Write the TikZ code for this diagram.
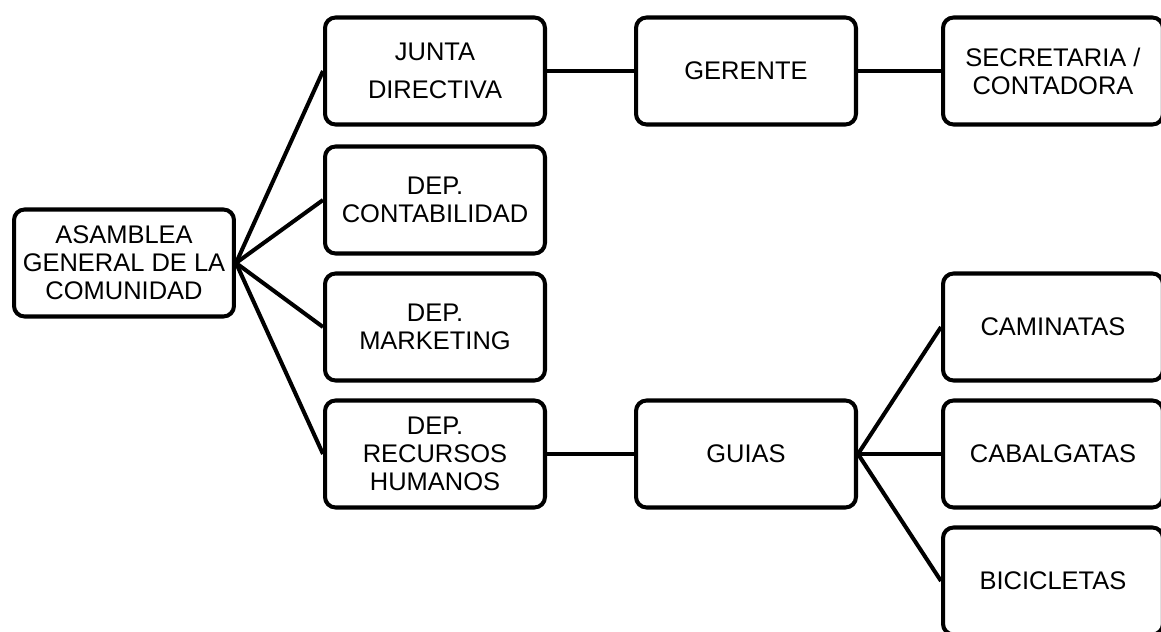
\documentclass[tikz,border=0pt]{standalone}
\usepackage{fontspec}
\setmainfont{Liberation Sans}

\begin{document}
\begin{tikzpicture}[x=0.02cm,y=-0.02cm,
  box/.style={draw,line width=2.3pt,rounded corners=6pt,minimum width=4.4cm,minimum height=2.14cm,
    align=center,inner sep=0pt,font=\fontsize{14.5}{16}\selectfont},
  link/.style={line width=2.3pt}]
  \useasboundingbox (0,0) rectangle (1161,632);
  % first column
  \node[box] (asamblea) at (124,263) {ASAMBLEA\\GENERAL DE LA\\COMUNIDAD};
  % second column
  \node[box] (junta) at (435,71) {JUNTA\\[5.6pt]DIRECTIVA};
  \node[box] (contab) at (435,200) {DEP.\\CONTABILIDAD};
  \node[box] (market) at (435,327) {DEP.\\MARKETING};
  \node[box] (rrhh) at (435,454) {DEP.\\RECURSOS\\HUMANOS};
  % third column
  \node[box] (gerente) at (746,71) {GERENTE};
  \node[box] (guias) at (746,454) {GUIAS};
  % fourth column
  \node[box] (secret) at (1053,71) {SECRETARIA /\\CONTADORA};
  \node[box] (camin) at (1053,327) {CAMINATAS};
  \node[box] (cabal) at (1053,454) {CABALGATAS};
  \node[box] (bici) at (1053,581) {BICICLETAS};
  % connectors
  \foreach \n in {junta,contab,market,rrhh}
    \draw[link] (asamblea.east) -- (\n.west);
  \draw[link] (junta) -- (gerente);
  \draw[link] (gerente) -- (secret);
  \draw[link] (rrhh) -- (guias);
  \foreach \n in {camin,cabal,bici}
    \draw[link] (guias.east) -- (\n.west);
\end{tikzpicture}
\end{document}
